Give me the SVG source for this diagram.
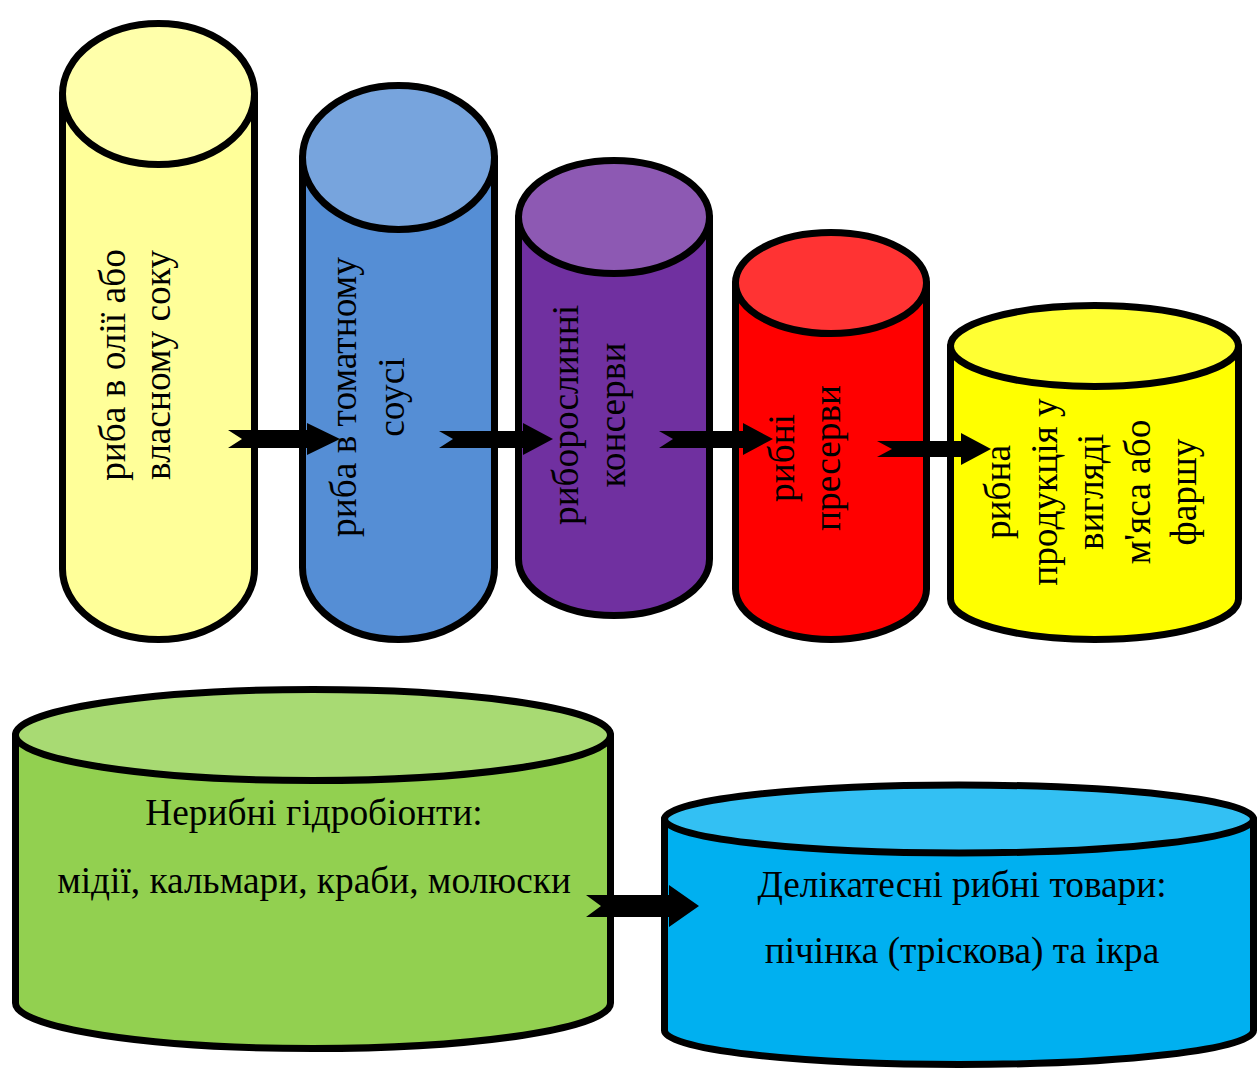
<svg xmlns="http://www.w3.org/2000/svg" width="1257" height="1070" viewBox="0 0 1257 1070">
<style>
.s{stroke:#000;stroke-width:7;stroke-linejoin:round}
.t{font-family:"Liberation Serif","Times New Roman",serif;font-size:37.33px;fill:#000}
.v{text-anchor:middle}
.a{fill:#000}
</style>
<rect width="1257" height="1070" fill="#fff"/>
<g id="cyl1">
<path class="s" fill="#FFFF99" d="M62.5,94 V569 A96,70.5 0 0 0 254.5,569 V94 Z"/>
<ellipse class="s" fill="#FFFFAA" cx="158.5" cy="94" rx="96" ry="70.5"/>
<g class="t v">
<text transform="translate(125,365) rotate(-90)">риба в олії або</text>
<text transform="translate(170,365) rotate(-90)">власному соку</text>
</g>
</g>
<g id="cyl2">
<path class="s" fill="#558ED5" d="M302.5,157.5 V567.5 A96,72 0 0 0 494.5,567.5 V157.5 Z"/>
<ellipse class="s" fill="#77A4DD" cx="398.5" cy="157.5" rx="96" ry="72"/>
<g class="t v">
<text transform="translate(356,397) rotate(-90)">риба в томатному</text>
<text transform="translate(404,397) rotate(-90)">соусі</text>
</g>
</g>
<g id="cyl3">
<path class="s" fill="#7030A0" d="M518.5,217 V559 A95.5,56.5 0 0 0 709.5,559 V217 Z"/>
<ellipse class="s" fill="#8D59B3" cx="614" cy="217" rx="95.5" ry="56.5"/>
<g class="t v">
<text transform="translate(578,415) rotate(-90)">риборослинні</text>
<text transform="translate(625,415) rotate(-90)">консерви</text>
</g>
</g>
<g id="cyl4">
<path class="s" fill="#FF0000" d="M735.5,283 V589 A95.5,50.5 0 0 0 926.5,589 V283 Z"/>
<ellipse class="s" fill="#FF3333" cx="831" cy="283" rx="95.5" ry="50.5"/>
<g class="t v">
<text transform="translate(794,458) rotate(-90)">рибні</text>
<text transform="translate(840,458) rotate(-90)">пресерви</text>
</g>
</g>
<g id="cyl5">
<path class="s" fill="#FFFF00" d="M950.5,346 V599 A144,40.5 0 0 0 1238.5,599 V346 Z"/>
<ellipse class="s" fill="#FFFF33" cx="1094.5" cy="346" rx="144" ry="40.5"/>
<g class="t v">
<text transform="translate(1010,492) rotate(-90)">рибна</text>
<text transform="translate(1057,492) rotate(-90)">продукція у</text>
<text transform="translate(1103,492) rotate(-90)">вигляді</text>
<text transform="translate(1150,492) rotate(-90)">м'яса або</text>
<text transform="translate(1196,492) rotate(-90)">фаршу</text>
</g>
</g>
<g id="cyl6">
<path class="s" fill="#92D050" d="M15.5,735 V1003 A297.5,45.5 0 0 0 610.5,1003 V735 Z"/>
<ellipse class="s" fill="#A8DA73" cx="313" cy="735" rx="297.5" ry="45.5"/>
<g class="t v">
<text x="314" y="825">Нерибні гідробіонти:</text>
<text x="314" y="893">мідії, кальмари, краби, молюски</text>
</g>
</g>
<g id="cyl7">
<path class="s" fill="#00B0F0" d="M664.5,819 V1030.5 A294.5,34 0 0 0 1253.5,1030.5 V819 Z"/>
<ellipse class="s" fill="#33C0F3" cx="959" cy="819" rx="294.5" ry="34"/>
<g class="t v">
<text x="962" y="897">Делікатесні рибні товари:</text>
<text x="962" y="963">пічінка (тріскова) та ікра</text>
</g>
</g>
<g id="connectors">
<polygon class="a" points="228,430 307,430 307,423 340,439 307,455 307,448 228,448 242,439"/>
<polygon class="a" points="439,431 523,431 523,423 553,439 523,455 523,448 439,448 453,439"/>
<polygon class="a" points="659,431 743,431 743,423 773,439 743,455 743,448 659,448 673,439"/>
<polygon class="a" points="877,441 961,441 961,433 991,449 961,465 961,457 877,457 892,449"/>
<polygon class="a" points="586,895 669,895 669,885 699,906 669,927 669,917 586,917 601,906"/>
</g>
</svg>
